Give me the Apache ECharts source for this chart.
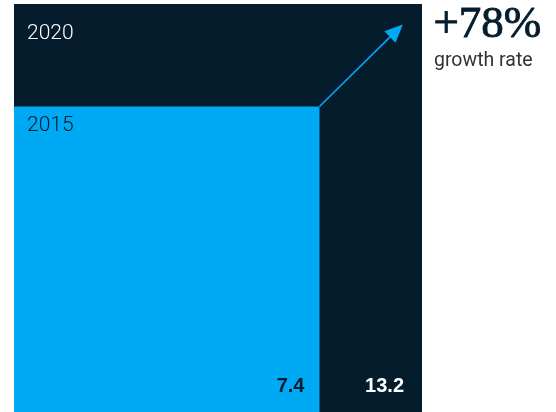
<!DOCTYPE html>
<html>
<head>
<meta charset="utf-8">
<script src="https://cdn.jsdelivr.net/npm/echarts@6/dist/echarts.min.js"></script>
<style>html,body{margin:0;padding:0;background:#fff}#c{width:556px;height:412px}</style>
</head>
<body>
<div id="c"></div>
<script>
const years = ['2015', '2020'];
const values = [7.4, 13.2];
const colors = ['#00a9f4', '#051c2c'];
const yearLabelColors = ['#0b1a26', '#ffffff'];
const valueLabelColors = ['#051c2c', '#ffffff'];
const growthCaption = 'growth rate';

const growth = Math.round((values[1] / values[0] - 1) * 100);
const sides = values.map(v => Math.sqrt(v));
const maxSide = Math.sqrt(values[1]);
const order = [1, 0];
const data = order.map(i => [sides[i], i]);

const chart = echarts.init(document.getElementById('c'));
chart.setOption({
  animation: false,
  grid: { left: 14, top: 4, width: 408, height: 408 },
  xAxis: { type: 'value', min: 0, max: maxSide, show: false },
  yAxis: { type: 'value', min: 0, max: maxSide, show: false },
  series: [
    {
      type: 'custom',
      coordinateSystem: 'cartesian2d',
      data: data,
      renderItem: function (params, api) {
        const s = api.value(0);
        const idx = api.value(1);
        const p0 = api.coord([0, 0]);
        const p1 = api.coord([s, s]);
        const x = p0[0], y = p1[1], w = p1[0] - p0[0], h = p0[1] - p1[1];
        const children = [
          { type: 'rect', shape: { x: x, y: y, width: w, height: h }, style: { fill: colors[idx] } },
          { type: 'text', style: { x: x + 13, y: y + (idx === 1 ? 30 : 19), text: years[idx], fill: yearLabelColors[idx], font: '300 21px Roboto, "Liberation Sans", sans-serif', verticalAlign: 'middle', align: 'left' } },
          { type: 'text', style: { x: x + w - (idx === 1 ? 18 : 15), y: p0[1] - 26, text: values[idx].toFixed(1), fill: valueLabelColors[idx], font: 'bold 20px "Liberation Sans", Arial, sans-serif', verticalAlign: 'middle', align: 'right' } }
        ];
        return { type: 'group', children: children };
      },
      z: 1
    },
    {
      type: 'custom',
      coordinateSystem: 'cartesian2d',
      data: [[sides[0], sides[0], maxSide * 0.953, maxSide * 0.95]],
      renderItem: function (params, api) {
        const a = api.coord([api.value(0), api.value(1)]);
        const b = api.coord([api.value(2), api.value(3)]);
        const ang = Math.atan2(b[1] - a[1], b[0] - a[0]);
        const L = 18, W = 8;
        const bx = b[0] - L * Math.cos(ang), by = b[1] - L * Math.sin(ang);
        const nx = -Math.sin(ang), ny = Math.cos(ang);
        return {
          type: 'group',
          children: [
            { type: 'line', shape: { x1: a[0], y1: a[1], x2: bx + 2 * Math.cos(ang), y2: by + 2 * Math.sin(ang) }, style: { stroke: colors[0], lineWidth: 1.6 } },
            { type: 'polygon', shape: { points: [[b[0], b[1]], [bx + nx * W, by + ny * W], [bx - nx * W, by - ny * W]] }, style: { fill: colors[0] } }
          ]
        };
      },
      z: 5
    }
  ],
  graphic: [
    { type: 'text', left: 433, top: 2, style: { text: '+' + growth + '%', fill: '#051c2c', stroke: '#051c2c', lineWidth: 0.9, font: '45px "Liberation Serif", "DejaVu Serif", serif' } },
    { type: 'text', left: 434, top: 51, style: { text: growthCaption, fill: '#333333', font: '400 19.5px Roboto, "Liberation Sans", sans-serif' } }
  ]
});
</script>
</body>
</html>
